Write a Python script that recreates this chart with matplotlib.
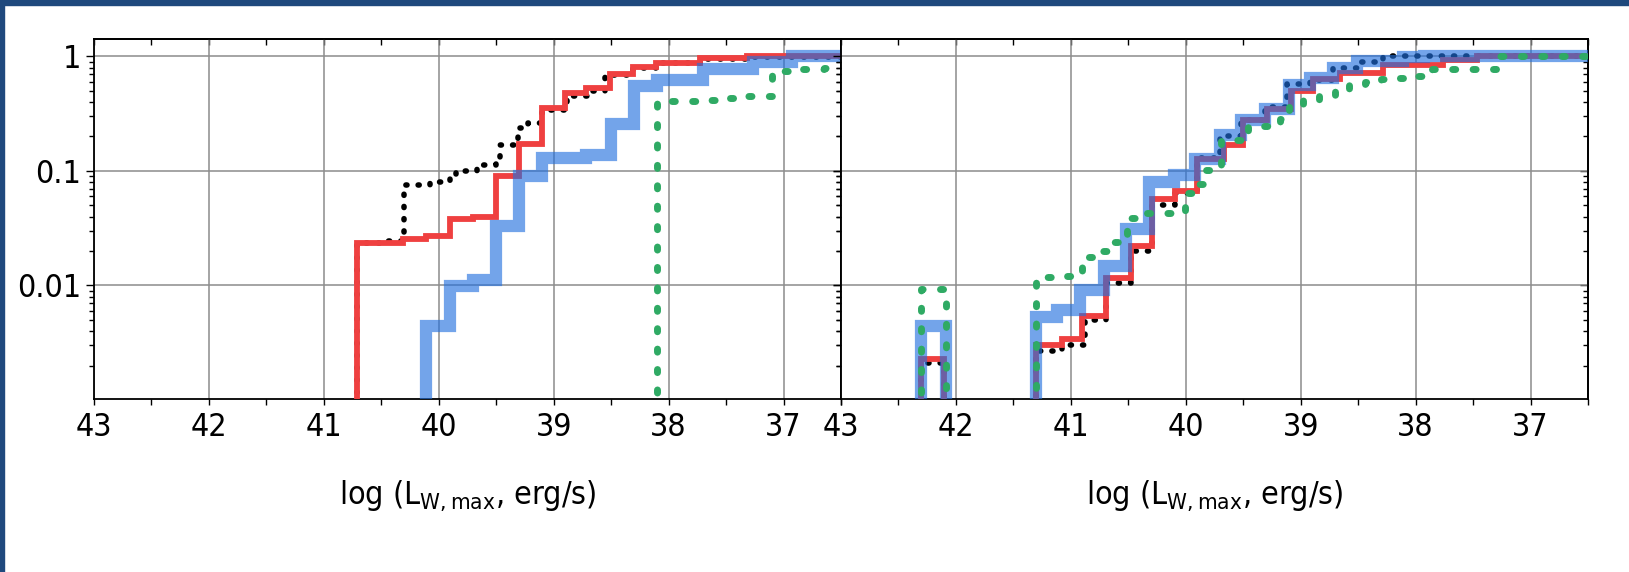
import os
import matplotlib
matplotlib.use("Agg")
import numpy as np
import matplotlib.pyplot as plt
from matplotlib import font_manager
from matplotlib.font_manager import FontProperties
from matplotlib.ticker import FixedLocator, FixedFormatter, LogLocator, NullFormatter
from matplotlib.patches import Rectangle

# ---------------------------------------------------------------------------
# Cumulative fractions vs. log peak wind luminosity (x runs from high to low).
# Each series: step positions (log L) and the fraction reached after the step.
# A value of 0 means the curve drops below the plotted range.
# ---------------------------------------------------------------------------
X_END = 36.5

# left panel
left_red_x = [40.71, 40.31, 40.11, 39.90, 39.70, 39.50, 39.30, 39.10, 38.90,
              38.72, 38.51, 38.31, 38.11, 37.73, 37.32]
left_red_y = [0.0234, 0.0254, 0.0268, 0.038, 0.0396, 0.090, 0.173, 0.356, 0.481,
              0.532, 0.705, 0.813, 0.881, 0.960, 1.0]

left_black_x = [40.71, 40.51, 40.30, 40.08, 39.90, 39.85, 39.67, 39.50, 39.47,
                39.31, 39.22, 39.10, 38.88, 38.70, 38.55, 38.31, 38.11, 37.73, 37.32]
left_black_y = [0.0234, 0.0245, 0.076, 0.080, 0.087, 0.100, 0.113, 0.126, 0.170,
                0.235, 0.26, 0.34, 0.45, 0.50, 0.69, 0.80, 0.87, 0.95, 0.98]

left_blue_x = [40.11, 39.90, 39.70, 39.50, 39.30, 39.10, 38.72, 38.50, 38.30,
               38.10, 37.70, 37.27, 36.93]
left_blue_y = [0.0044, 0.0098, 0.0112, 0.033, 0.090, 0.130, 0.137, 0.258, 0.55,
               0.62, 0.78, 0.89, 1.0]

left_green_x = [38.10, 37.75, 37.50, 37.35, 37.10, 36.95, 36.65]
left_green_y = [0.41, 0.42, 0.43, 0.45, 0.74, 0.78, 0.80]

# right panel
right_red_x = [42.30, 42.10, 41.30, 41.08, 40.90, 40.69, 40.48, 40.29, 40.09,
               39.90, 39.67, 39.50, 39.29, 39.08, 38.89, 38.66, 38.28, 37.76,
               37.47]
right_red_y = [0.0023, 0.0, 0.0030, 0.0034, 0.0054, 0.0117, 0.0222, 0.057, 0.067,
               0.126, 0.167, 0.281, 0.348, 0.50, 0.63, 0.72, 0.85, 0.94,
               1.0]

right_black_x = [42.30, 42.10, 41.30, 41.08, 40.88, 40.69, 40.48, 40.29, 40.09,
                 39.90, 39.70, 39.52, 39.31, 39.12, 38.92, 38.72, 38.50, 38.28]
right_black_y = [0.0021, 0.0, 0.0027, 0.0030, 0.0050, 0.0105, 0.0198, 0.0507, 0.064,
                 0.13, 0.20, 0.28, 0.36, 0.57, 0.62, 0.79, 0.90, 1.0]

right_blue_x = [42.30, 42.09, 41.30, 41.12, 40.92, 40.71, 40.52, 40.32, 40.10,
                39.92, 39.70, 39.52, 39.31, 39.10, 38.92, 38.72, 38.51, 38.11, 37.93]
right_blue_y = [0.0044, 0.0, 0.0053, 0.0061, 0.0092, 0.0147, 0.031, 0.080, 0.092,
                0.127, 0.205, 0.28, 0.35, 0.56, 0.65, 0.80, 0.91, 0.98, 1.0]

right_green_x = [42.30, 42.09, 41.30, 41.10, 40.97, 40.90, 40.77, 40.67, 40.51,
                 40.37, 40.01, 39.90, 39.83, 39.69, 39.46, 39.18, 39.10, 38.98,
                 38.84, 38.70, 38.58, 38.44, 38.30, 38.15, 38.00, 37.86, 37.30]
right_green_y = [0.0094, 0.0, 0.0118, 0.0121, 0.0132, 0.0179, 0.0202, 0.0242, 0.0388,
                 0.0429, 0.064, 0.0774, 0.1026, 0.188, 0.249, 0.285, 0.368, 0.42,
                 0.45, 0.497, 0.569, 0.596, 0.638, 0.65, 0.68, 0.77, 1.0]

x_major = [43, 42, 41, 40, 39, 38, 37]
x_major_labels = ["43", "42", "41", "40", "39", "38", "37"]
y_major = [0.01, 0.1, 1]
y_major_labels = ["0.01", "0.1", "1"]
x_label = r"log (L$_{\mathregular{W,max}}$, erg/s)"


# ---------------------------------------------------------------------------
# narrow sans-serif face for all labels, if one is installed
def pick_narrow_font():
    prefs = ["liberationsansnarrow-regular", "notosans-condensed.", "dejavusanscondensed.",
             "robotocondensed-regular", "opensans_condensed-regular",
             "notosans-semicondensed.", "notosans-extracondensed."]
    files = [f.fname for f in font_manager.fontManager.ttflist]
    for p in prefs:
        for fn in files:
            if os.path.basename(fn).lower().startswith(p):
                return fn
    for fn in files:
        b = os.path.basename(fn).lower()
        if ("narrow" in b or "condensed" in b) and "bold" not in b and "italic" not in b \
                and "light" not in b and "thin" not in b and "black" not in b \
                and "medium" not in b and "semibold" not in b and "oblique" not in b:
            return fn
    return None


narrow = pick_narrow_font()
if narrow:
    FS = 23
    LABEL_FP = FontProperties(fname=narrow, size=FS)
else:
    FS = 20
    LABEL_FP = FontProperties(family="Liberation Sans", size=FS)
plt.rcParams["font.family"] = ["Liberation Sans", "DejaVu Sans"]
plt.rcParams["lines.scale_dashes"] = False

RED = "#EF4040"
BLUE = (0.13, 0.44, 0.87, 0.63)
GREEN = "#2FAA64"
BLACK = "#000000"
GRID = "#8c8c8c"
FRAME = "#1F497D"
FLOOR = 1e-4
YLIM = (0.00102, 1.42)

W, H = 1629, 572
fig = plt.figure(figsize=(W / 100, H / 100), dpi=100)
fig.patch.set_facecolor("white")


def px_axes(x0, x1, y0, y1):
    return fig.add_axes([x0 / W, 1 - y1 / H, (x1 - x0) / W, (y1 - y0) / H])


def step_line(ax, xs, ys, **kw):
    xs = np.asarray(xs, float)
    ys = np.asarray(ys, float)
    ys = np.where(ys > 0, ys, FLOOR)
    xx = np.concatenate([[xs[0]], xs, [X_END]])
    yy = np.concatenate([[FLOOR], ys, [ys[-1]]])
    return ax.plot(xx, yy, drawstyle="steps-post", **kw)[0]


def style_axes(ax, show_ylabels):
    ax.set_xlim(43, X_END)
    ax.set_yscale("log")
    ax.set_ylim(*YLIM)
    ax.xaxis.set_major_locator(FixedLocator(x_major))
    ax.xaxis.set_major_formatter(FixedFormatter(x_major_labels))
    ax.xaxis.set_minor_locator(FixedLocator(np.arange(42.5, 36.4, -1.0)))
    ax.yaxis.set_major_locator(FixedLocator(y_major))
    ax.yaxis.set_major_formatter(FixedFormatter(y_major_labels))
    ax.yaxis.set_minor_locator(LogLocator(base=10, subs=np.arange(2, 10)))
    ax.yaxis.set_minor_formatter(NullFormatter())
    ax.grid(True, which="major", color=GRID, lw=1.1)
    ax.set_axisbelow(True)
    for s in ax.spines.values():
        s.set_linewidth(1.3)
        s.set_color("black")
    ax.tick_params(axis="x", which="major", direction="out", length=4.5, width=1.0,
                   pad=5)
    ax.tick_params(axis="x", which="minor", direction="out", length=4.0, width=1.0)
    ax.tick_params(axis="y", which="major", direction="out", length=5.5, width=1.0,
                   pad=4, labelleft=show_ylabels)
    ax.tick_params(axis="y", which="minor", direction="out", length=3.5, width=1.0)
    for lab in ax.get_xticklabels() + ax.get_yticklabels():
        lab.set_fontproperties(LABEL_FP)
    # inward ticks along the top and right edges
    top = ax.secondary_xaxis("top")
    top.xaxis.set_major_locator(FixedLocator(x_major))
    top.xaxis.set_minor_locator(FixedLocator(np.arange(42.5, 36.4, -1.0)))
    top.tick_params(which="both", direction="in", length=4.5, width=1.0,
                    labeltop=False)
    top.spines["top"].set_linewidth(1.3)
    right = ax.secondary_yaxis("right")
    right.yaxis.set_major_locator(FixedLocator(y_major))
    right.yaxis.set_minor_locator(LogLocator(base=10, subs=np.arange(2, 10)))
    right.yaxis.set_minor_formatter(NullFormatter())
    right.tick_params(which="major", direction="in", length=5.5, width=1.0,
                      labelright=False)
    right.tick_params(which="minor", direction="in", length=3.5, width=1.0)
    right.spines["right"].set_linewidth(1.3)


def draw_panel(ax, red, black, blue, green):
    step_line(ax, *black, color=BLACK, lw=4.0, dashes=(0.8, 8.0),
              dash_capstyle="round", zorder=2)
    step_line(ax, *red, color=RED, lw=4.2, solid_joinstyle="miter",
              solid_capstyle="butt", zorder=3)
    step_line(ax, *blue, color=BLUE, lw=8.8, solid_joinstyle="miter",
              solid_capstyle="butt", zorder=4)
    step_line(ax, *green, color=GREEN, lw=5.0, dashes=(2.2, 12.5),
              dash_capstyle="round", zorder=5)


ax1 = px_axes(94, 841, 39, 399)
style_axes(ax1, True)
draw_panel(ax1, (left_red_x, left_red_y), (left_black_x, left_black_y),
           (left_blue_x, left_blue_y), (left_green_x, left_green_y))

ax2 = px_axes(841, 1588, 39, 399)
style_axes(ax2, False)
draw_panel(ax2, (right_red_x, right_red_y), (right_black_x, right_black_y),
           (right_blue_x, right_blue_y), (right_green_x, right_green_y))

for ax in (ax1, ax2):
    pos = ax.get_position()
    fig.text((pos.x0 + pos.x1) / 2, (H - 504) / H, x_label, ha="center",
             va="baseline", fontproperties=LABEL_FP)

# dark frame along the top and left edges
fig.patches.append(Rectangle((0, 1 - 5 / H), 1, 5 / H, transform=fig.transFigure,
                             color=FRAME, zorder=10))
fig.patches.append(Rectangle((0, 0), 4 / W, 1, transform=fig.transFigure,
                             color=FRAME, zorder=10))

fig.savefig("out.png", dpi=100)
